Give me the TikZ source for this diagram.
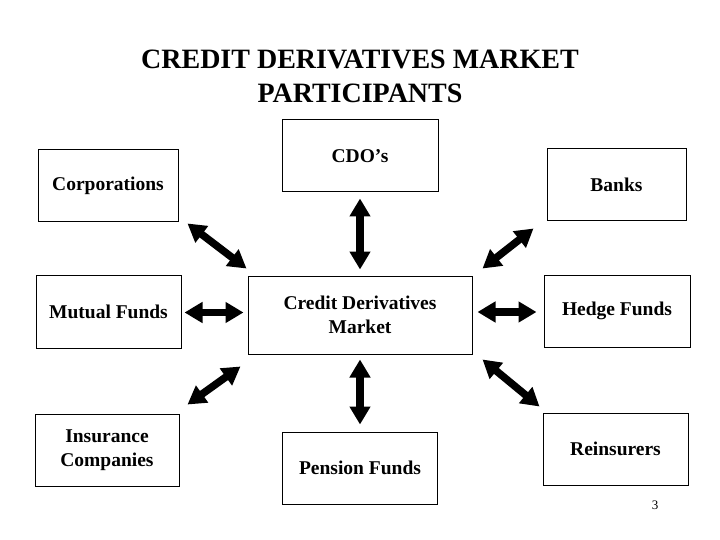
\documentclass[tikz,border=0pt]{standalone}
\usepackage{fontspec}
\setmainfont{Liberation Serif}
\usetikzlibrary{arrows.meta,calc}
\tikzset{
  box/.style={draw=black, line width=1pt, minimum width=#1, minimum height=72pt, inner sep=2pt, align=center, font=\fontsize{19.5}{23.5}\selectfont\bfseries},
  dbl/.style={line width=7.5pt, {Triangle[length=18pt,width=20pt]}-{Triangle[length=18pt,width=20pt]}}
}
\begin{document}
\begin{tikzpicture}[x=1pt,y=-1pt]
\useasboundingbox (0,0) rectangle (720,540);
\node[align=center, font=\fontsize{28}{34}\selectfont\bfseries] (title) at (360,76) {CREDIT DERIVATIVES MARKET\\PARTICIPANTS};
\node[box=140pt] (corp) at (108,186) {Corporations};
\node[box=156pt] (cdo) at (360,156) {CDO’s};
\node[box=139pt] (banks) at (616.5,185) {Banks};
\node[box=145pt, minimum height=73pt] (mutual) at (108.5,311.5) {Mutual Funds};
\node[box=224pt, minimum height=78pt] (cdm) at (360,315) {Credit Derivatives\\Market};
\node[box=146pt] (hedge) at (617,311) {Hedge Funds};
\node[box=144pt] (ins) at (107,450) {Insurance\\Companies};
\node[box=155pt] (pension) at (360,468) {Pension Funds};
\node[box=145pt] (reins) at (615.5,449) {Reinsurers};
\node[font=\fontsize{13}{15}\selectfont] (pg) at (655,505) {3};
% arrows
\draw[dbl] ($(corp.south east)+(9,1)$) -- ($(cdm.north west)+(-1,-7)$);
\draw[dbl] ($(cdo.south)+(0,6)$) -- ($(cdm.north)+(0,-6)$);
\draw[dbl] ($(banks.south west)+(-13,7)$) -- ($(cdm.north east)+(10,-7)$);
\draw[dbl] ($(mutual.east)+(3,1)$) -- ($(mutual.east -| cdm.west)+(-4,1)$);
\draw[dbl] ($(hedge.west -| cdm.east)+(5,1)$) -- ($(hedge.west)+(-7,1)$);
\draw[dbl] ($(ins.north east)+(8,-9)$) -- ($(cdm.south west)+(-7,12)$);
\draw[dbl] ($(cdm.south)+(0,5)$) -- ($(pension.north)+(0,-7)$);
\draw[dbl] ($(cdm.south east)+(10,5)$) -- ($(reins.north west)+(-3,-6)$);
\end{tikzpicture}
\end{document}
